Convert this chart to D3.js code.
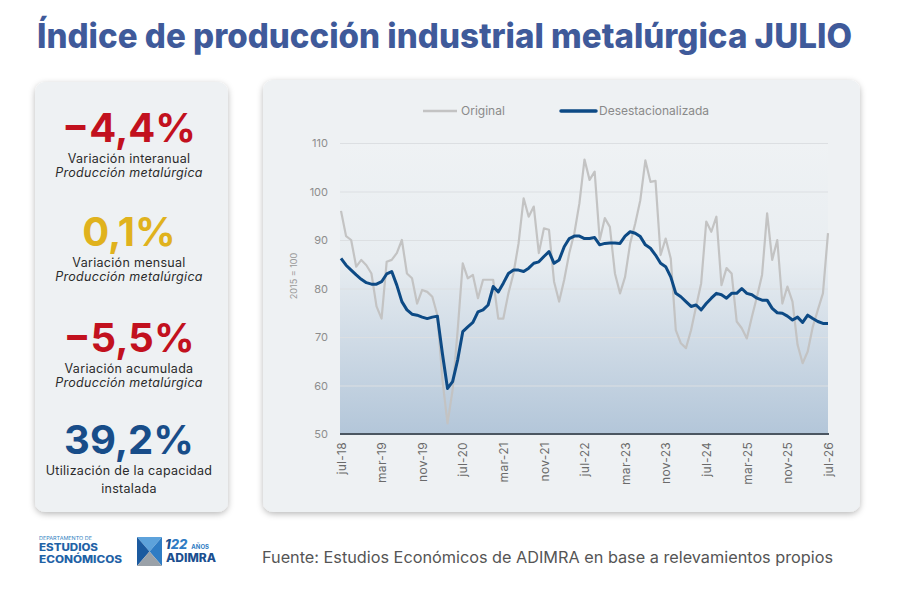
<!DOCTYPE html>
<html lang="es">

<head>
    <meta charset="UTF-8">
    <title>Índice de producción industrial metalúrgica</title>
    <style>
        body {
            margin: 0;
            background: #fff;
        }

        svg text {
            font-family: Inter, "Open Sans", sans-serif;
        }

        .grid line {
            stroke: #dcdfe2;
        }

        .grid .domain {
            display: none;
        }
    </style>
</head>

<body>
    <div id="wrapper"></div>

    <script src="https://d3js.org/d3.v7.min.js"></script>
    <script>
        // datos (jul-18 a jul-26)
        const monthNames = ['ene', 'feb', 'mar', 'abr', 'may', 'jun', 'jul', 'ago', 'sep', 'oct', 'nov', 'dic'];
        const months = [];
        for (let k = 0; k < 97; k++) {
            const m = (6 + k) % 12,
                y = 18 + Math.floor((6 + k) / 12);
            months.push(monthNames[m] + '-' + y);
        }

        const tickLabels = ['jul-18', 'mar-19', 'nov-19', 'jul-20', 'mar-21', 'nov-21', 'jul-22',
            'mar-23', 'nov-23', 'jul-24', 'mar-25', 'nov-25', 'jul-26'];

        const yTicks = [50, 60, 70, 80, 90, 100, 110];

        const original = [
            96.0, 90.8, 90.0, 84.5, 85.9, 84.8, 83.1, 76.3, 73.8, 85.5,
            85.9, 87.3, 90.0, 83.1, 82.1, 76.9, 79.7, 79.3, 78.3, 74.5,
            61.1, 52.2, 59.1, 71.4, 85.2, 82.1, 82.8, 78.0, 81.8, 81.8,
            81.8, 73.8, 73.8, 79.0, 83.1, 89.3, 98.6, 94.8, 96.9, 87.3,
            92.4, 92.1, 81.4, 77.3, 81.8, 87.3, 91.4, 97.6, 106.6, 102.4,
            104.1, 90.0, 94.5, 92.7, 83.1, 79.0, 82.4, 89.3, 93.4, 98.2,
            106.4, 102.0, 102.2, 86.9, 90.3, 86.2, 71.4, 68.7, 67.7, 71.4,
            76.3, 81.1, 93.8, 91.7, 94.8, 80.7, 84.2, 83.1, 73.2, 71.8,
            69.7, 74.2, 78.3, 82.8, 95.5, 85.9, 90.0, 76.9, 80.4, 77.3,
            68.4, 64.6, 67.0, 72.1, 75.6, 79.0, 91.4
        ];

        const desest = [
            86.2, 84.8, 83.8, 82.8, 81.9, 81.2, 80.9, 80.9, 81.4, 83.0,
            83.5, 80.7, 77.3, 75.6, 74.7, 74.5, 74.1, 73.8, 74.1, 74.3,
            66.5, 59.4, 60.8, 65.3, 71.1, 72.1, 73.0, 75.2, 75.6, 76.6,
            80.4, 79.3, 81.1, 83.1, 83.8, 83.8, 83.5, 84.2, 85.2, 85.5,
            86.6, 87.6, 85.2, 85.9, 88.6, 90.3, 90.8, 90.8, 90.3, 90.3,
            90.5, 89.0, 89.3, 89.4, 89.4, 89.3, 90.8, 91.7, 91.4, 90.7,
            89.0, 88.3, 86.9, 85.2, 84.5, 82.4, 79.0, 78.3, 77.3, 76.3,
            76.6, 75.6, 76.9, 78.0, 79.0, 78.7, 78.0, 79.0, 79.0, 80.0,
            79.0, 78.7, 78.0, 77.6, 77.6, 75.9, 75.0, 74.9, 74.3, 73.5,
            74.1, 73.0, 74.5, 73.8, 73.2, 72.8, 72.8
        ];

        // indicadores del panel izquierdo
        const kpiValues = ['−4,4%', '0,1%', '−5,5%', '39,2%'];
        const kpiColors = ['#c2111e', '#e0b21d', '#c2111e', '#184d89'];
        const kpiLine1 = ['Variación interanual', 'Variación mensual', 'Variación acumulada', 'Utilización de la capacidad'];
        const kpiLine2 = ['Producción metalúrgica', 'Producción metalúrgica', 'Producción metalúrgica', 'instalada'];
        const kpiItalic = [true, true, true, false];

        const svg = d3.select('#wrapper').append('svg')
            .attr('width', 900)
            .attr('height', 590);

        const defs = svg.append('defs');
        const shadow = defs.append('filter').attr('id', 'shadow')
            .attr('x', '-10%').attr('y', '-10%').attr('width', '120%').attr('height', '120%');
        shadow.append('feDropShadow')
            .attr('dx', 0).attr('dy', 2).attr('stdDeviation', 3)
            .attr('flood-color', '#000').attr('flood-opacity', 0.28);

        const grad = defs.append('linearGradient').attr('id', 'areaGrad')
            .attr('x1', 0).attr('y1', 0).attr('x2', 0).attr('y2', 1);
        grad.append('stop').attr('offset', '0%').attr('stop-color', '#eff2f4');
        grad.append('stop').attr('offset', '40%').attr('stop-color', '#e8edf1');
        grad.append('stop').attr('offset', '100%').attr('stop-color', '#b3c6d9');

        // título
        svg.append('text')
            .attr('x', 37).attr('y', 48)
            .attr('textLength', 815).attr('lengthAdjust', 'spacingAndGlyphs')
            .style('font-size', '34px').style('font-weight', 800)
            .attr('fill', '#3f5a9a')
            .text('Índice de producción industrial metalúrgica JULIO');

        // tarjetas
        svg.append('rect').attr('x', 35).attr('y', 82).attr('width', 193).attr('height', 430)
            .attr('rx', 10).attr('fill', '#eef1f3').attr('filter', 'url(#shadow)');
        svg.append('rect').attr('x', 263).attr('y', 80).attr('width', 597).attr('height', 432)
            .attr('rx', 10).attr('fill', '#eef1f3').attr('filter', 'url(#shadow)');

        // panel izquierdo
        const kpiBase = [142, 246, 352, 454];
        const cx = 129;
        kpiValues.forEach((v, i) => {
            svg.append('text').attr('x', cx).attr('y', kpiBase[i])
                .attr('text-anchor', 'middle')
                .style('font-size', '40px').style('font-weight', 700)
                .attr('fill', kpiColors[i]).text(v);
            svg.append('text').attr('x', cx).attr('y', kpiBase[i] + 21)
                .attr('text-anchor', 'middle')
                .style('font-size', '12.5px').style('letter-spacing', '0.3px')
                .attr('fill', '#2b2b2b').text(kpiLine1[i]);
            svg.append('text').attr('x', cx).attr('y', kpiBase[i] + (i === 3 ? 39 : 35))
                .attr('text-anchor', 'middle')
                .style('font-size', '12.5px').style('letter-spacing', '0.3px')
                .style('font-style', kpiItalic[i] ? 'italic' : 'normal')
                .attr('fill', '#2b2b2b').text(kpiLine2[i]);
        });

        // gráfico
        function drawChart() {
            const left = 341,
                right = 828,
                top = 143,
                bottom = 434;

            const xScale = d3.scalePoint()
                .domain(months)
                .range([left, right]);

            const yScale = d3.scaleLinear()
                .domain([50, 110])
                .range([bottom, top]);

            // fondo con degradé
            svg.append('rect')
                .attr('x', left - 1).attr('y', yScale(110))
                .attr('width', right - left + 1).attr('height', yScale(50) - yScale(110))
                .attr('fill', 'url(#areaGrad)');

            // grilla y eje Y
            const yAxis = d3.axisLeft(yScale)
                .tickValues(yTicks)
                .tickSize(-(right - left + 1))
                .tickPadding(12);

            const gy = svg.append('g').attr('class', 'grid')
                .attr('transform', `translate(${left - 1},0)`)
                .call(yAxis);
            gy.selectAll('text')
                .style('font-size', '11px')
                .attr('fill', '#8d8d8d');

            svg.append('text')
                .attr('transform', `translate(297,276) rotate(-90)`)
                .attr('text-anchor', 'middle')
                .style('font-size', '9px').attr('fill', '#9a9a9a')
                .text('2015 = 100');

            // eje X
            const xAxis = d3.axisBottom(xScale)
                .tickValues(tickLabels)
                .tickSize(0)
                .tickPadding(0);

            const gx = svg.append('g')
                .attr('transform', `translate(0,${bottom})`)
                .call(xAxis);
            gx.select('.domain').attr('stroke', '#4b5661').attr('stroke-width', 2)
                .attr('d', `M${left - 1},0H${right + 1}`);
            gx.selectAll('text')
                .attr('transform', 'rotate(-90)')
                .attr('text-anchor', 'end')
                .attr('x', -8).attr('y', 0).attr('dy', '0.35em')
                .style('font-size', '12px').style('letter-spacing', '0.3px')
                .attr('fill', '#6a6a6a');

            const line = d3.line()
                .x((d, i) => xScale(months[i]))
                .y(d => yScale(d))
                .curve(d3.curveLinear);

            svg.append('path').attr('d', line(original))
                .attr('fill', 'none')
                .attr('stroke', '#c3c3c3')
                .attr('stroke-width', 2.2)
                .attr('stroke-linejoin', 'round');

            svg.append('path').attr('d', line(desest))
                .attr('fill', 'none')
                .attr('stroke', '#0d4a85')
                .attr('stroke-width', 3)
                .attr('stroke-linejoin', 'round');

            // leyenda
            const legend = svg.append('g');
            legend.append('line').attr('x1', 423).attr('x2', 457).attr('y1', 111).attr('y2', 111)
                .attr('stroke', '#c3c3c3').attr('stroke-width', 2.5);
            legend.append('text').attr('x', 461).attr('y', 115)
                .style('font-size', '12px').attr('fill', '#8a8a8a').text('Original');
            legend.append('line').attr('x1', 561).attr('x2', 596).attr('y1', 111).attr('y2', 111)
                .attr('stroke', '#0d4a85').attr('stroke-width', 3.5).attr('stroke-linecap', 'round');
            legend.append('text').attr('x', 599).attr('y', 115)
                .style('font-size', '12px').attr('fill', '#8a8a8a').text('Desestacionalizada');
        }

        drawChart();

        // pie: logos y fuente
        svg.append('text').attr('x', 39).attr('y', 539.5)
            .attr('textLength', 53).attr('lengthAdjust', 'spacingAndGlyphs')
            .style('font-size', '4.5px').attr('fill', '#2f7fc1').text('DEPARTAMENTO DE');
        svg.append('text').attr('x', 39).attr('y', 550.5)
            .attr('textLength', 59).attr('lengthAdjust', 'spacingAndGlyphs')
            .style('font-size', '9.8px').style('font-weight', 800).attr('fill', '#1f62a6').text('ESTUDIOS');
        svg.append('text').attr('x', 39).attr('y', 562.5)
            .attr('textLength', 83).attr('lengthAdjust', 'spacingAndGlyphs')
            .style('font-size', '9.8px').style('font-weight', 800).attr('fill', '#1f62a6').text('ECONÓMICOS');

        const logo = svg.append('g').attr('transform', 'translate(137,537)');
        logo.append('path').attr('d', 'M0,0L25,0L12.5,14.5Z').attr('fill', '#5da2db');
        logo.append('path').attr('d', 'M0,0L12.5,14.5L0,29Z').attr('fill', '#1b5a9f');
        logo.append('path').attr('d', 'M25,0L25,29L12.5,14.5Z').attr('fill', '#2f7cc4');
        logo.append('path').attr('d', 'M0,29L12.5,14.5L25,29Z').attr('fill', '#9aa1a8');

        const years = svg.append('text').attr('x', 165).attr('y', 549)
            .style('font-weight', 800).style('font-style', 'italic');
        years.append('tspan').style('font-size', '13px').attr('fill', '#1b4f8f').text('1');
        years.append('tspan').style('font-size', '13px').attr('fill', '#2f7cc4').text('22');
        years.append('tspan').attr('dx', 4).style('font-size', '6px').style('font-style', 'normal')
            .style('font-weight', 700).attr('fill', '#2f7cc4').text('AÑOS');
        svg.append('text').attr('x', 166).attr('y', 562)
            .attr('textLength', 50).attr('lengthAdjust', 'spacingAndGlyphs')
            .style('font-size', '11.5px').style('font-weight', 800)
            .attr('fill', '#1b4f8f').text('ADIMRA');

        svg.append('text').attr('x', 262).attr('y', 563)
            .attr('textLength', 571).attr('lengthAdjust', 'spacingAndGlyphs')
            .style('font-size', '16px').attr('fill', '#555')
            .text('Fuente: Estudios Económicos de ADIMRA en base a relevamientos propios');
    </script>
</body>

</html>
